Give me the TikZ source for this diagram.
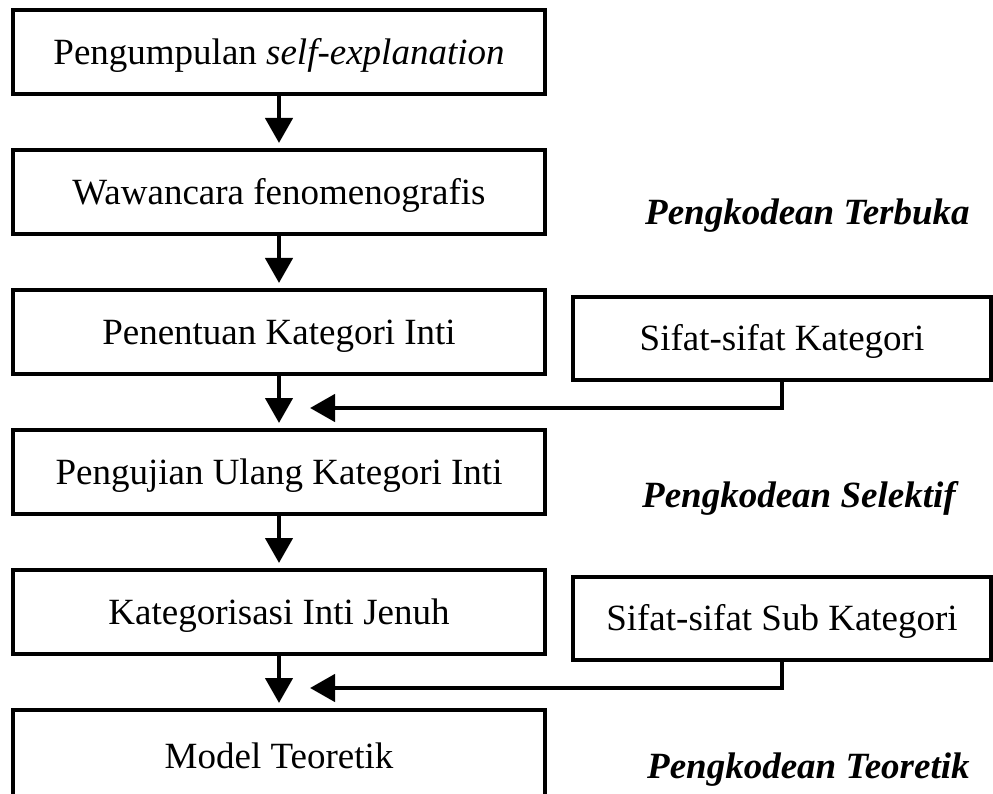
\documentclass[tikz,border=0pt]{standalone}
\usepackage{fontspec}
\setmainfont{Liberation Serif}
\usetikzlibrary{arrows.meta}
\begin{document}
\begin{tikzpicture}[x=1pt,y=-1pt,
  box/.style={draw, line width=4.5pt, inner sep=0pt, outer sep=0pt,
    minimum width=532pt, minimum height=84pt,
    font=\fontsize{37}{44}\selectfont, text height=24.5pt, text depth=0pt},
  sidebox/.style={box, minimum width=418pt, minimum height=83pt},
  phase/.style={anchor=base west, inner sep=0pt,
    font=\fontsize{37}{44}\selectfont\bfseries\itshape},
  arr/.style={line width=4.5pt, -{Triangle[length=25pt,width=27pt]}},
  flow/.style={arr, shorten >=7pt}]
\useasboundingbox (0,0) rectangle (993,794);
\fill[white] (0,0) rectangle (993,794);

\node[box] (b1) at (279,52) {Pengumpulan \textit{self-explanation}};
\node[box] (b2) at (279,192) {Wawancara fenomenografis};
\node[box] (b3) at (279,332) {Penentuan Kategori Inti};
\node[box] (b4) at (279,472) {Pengujian Ulang Kategori Inti};
\node[box] (b5) at (279,612) {Kategorisasi Inti Jenuh};
\node[box, minimum height=92pt] (b6) at (279,756) {Model Teoretik};

\node[sidebox] (s1) at (782,338.5) {Sifat-sifat Kategori};
\node[sidebox] (s2) at (782,618.5) {Sifat-sifat Sub Kategori};

\node[phase] (p1) at (645,225) {Pengkodean Terbuka};
\node[phase] (p2) at (642,507) {Pengkodean Selektif};
\node[phase] (p3) at (647,778) {Pengkodean Teoretik};

\draw[flow] (b1) -- (b2);
\draw[flow] (b2) -- (b3);
\draw[flow] (b3) -- (b4);
\draw[flow] (b4) -- (b5);
\draw[flow] (b5) -- (b6);

\coordinate (t1) at (310,408);
\coordinate (t2) at (310,688);
\draw[arr] (s1.south) |- (t1);
\draw[arr] (s2.south) |- (t2);
\end{tikzpicture}
\end{document}
